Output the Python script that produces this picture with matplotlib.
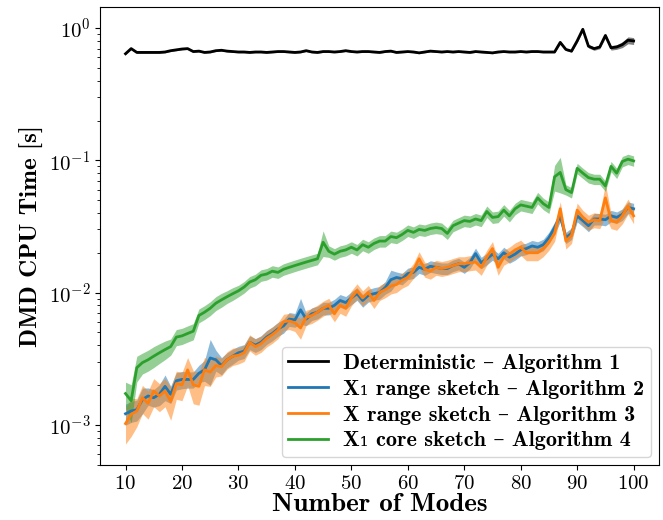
import matplotlib
matplotlib.use("Agg")
import matplotlib.pyplot as plt
import numpy as np

plt.rcParams["font.family"] = ["cmr10", "DejaVu Serif"]
plt.rcParams["mathtext.fontset"] = "cm"
plt.rcParams["axes.formatter.use_mathtext"] = True

BOLD = ["cmb10", "DejaVu Serif"]

modes = np.arange(10, 101)

# mean CPU time per method [s], modes 10..100
det = [0.64, 0.70, 0.655, 0.655, 0.655, 0.655, 0.655, 0.66, 0.675, 0.685,
       0.695, 0.70, 0.665, 0.67, 0.655, 0.66, 0.675, 0.68, 0.67, 0.665,
       0.66, 0.66, 0.655, 0.66, 0.66, 0.655, 0.66, 0.665, 0.665, 0.66,
       0.655, 0.66, 0.675, 0.66, 0.655, 0.665, 0.665, 0.66, 0.665, 0.675,
       0.665, 0.66, 0.665, 0.665, 0.66, 0.655, 0.665, 0.67, 0.655, 0.66,
       0.665, 0.66, 0.65, 0.66, 0.67, 0.665, 0.66, 0.665, 0.66, 0.665,
       0.66, 0.655, 0.665, 0.66, 0.655, 0.65, 0.66, 0.665, 0.66, 0.66,
       0.665, 0.66, 0.665, 0.665, 0.66, 0.66, 0.66, 0.78, 0.69, 0.67,
       0.80, 0.98, 0.73, 0.70, 0.72, 0.88, 0.71, 0.72, 0.75, 0.81, 0.80]
x1_range = [1.21e-3, 1.27e-3, 1.3e-3, 1.55e-3, 1.65e-3, 1.6e-3, 1.7e-3, 1.95e-3, 1.7e-3, 2.15e-3,
            2.2e-3, 2.2e-3, 2.2e-3, 2.45e-3, 2.6e-3, 3.2e-3, 3.1e-3, 2.8e-3, 3.1e-3, 3.3e-3,
            3.5e-3, 3.6e-3, 4.2e-3, 4.0e-3, 4.2e-3, 4.6e-3, 4.9e-3, 5.3e-3, 5.6e-3, 6.3e-3,
            6.2e-3, 7.4e-3, 6.3e-3, 6.9e-3, 7.1e-3, 7.6e-3, 7.6e-3, 8.0e-3, 8.7e-3, 8.4e-3,
            9.1e-3, 9.8e-3, 8.7e-3, 9.5e-3, 9.8e-3, 1.0e-2, 1.09e-2, 1.25e-2, 1.3e-2, 1.27e-2,
            1.39e-2, 1.42e-2, 1.55e-2, 1.5e-2, 1.58e-2, 1.55e-2, 1.52e-2, 1.52e-2, 1.6e-2, 1.65e-2,
            1.55e-2, 1.68e-2, 1.97e-2, 1.68e-2, 1.8e-2, 1.95e-2, 1.8e-2, 2.0e-2, 1.85e-2, 1.95e-2,
            2.1e-2, 2.15e-2, 2.25e-2, 2.2e-2, 2.3e-2, 2.6e-2, 3.1e-2, 3.8e-2, 2.6e-2, 2.8e-2,
            3.8e-2, 3.5e-2, 3.2e-2, 3.6e-2, 3.6e-2, 3.55e-2, 3.8e-2, 3.7e-2, 3.9e-2, 4.4e-2, 4.3e-2]
x_range = [1.02e-3, 1.2e-3, 1.27e-3, 1.6e-3, 1.45e-3, 1.8e-3, 1.65e-3, 1.8e-3, 1.5e-3, 2.05e-3,
           2.0e-3, 2.6e-3, 2.0e-3, 1.95e-3, 2.6e-3, 2.5e-3, 2.8e-3, 2.75e-3, 3.1e-3, 3.3e-3,
           3.35e-3, 3.5e-3, 4.2e-3, 3.9e-3, 4.1e-3, 4.5e-3, 4.8e-3, 5.2e-3, 6.0e-3, 6.1e-3,
           5.9e-3, 5.4e-3, 6.5e-3, 6.7e-3, 7.1e-3, 7.6e-3, 8.0e-3, 6.9e-3, 8.0e-3, 7.6e-3,
           9.1e-3, 1.03e-2, 9.1e-3, 1.0e-2, 8.7e-3, 1.0e-2, 1.05e-2, 1.12e-2, 1.15e-2, 1.24e-2,
           1.3e-2, 1.47e-2, 1.8e-2, 1.5e-2, 1.45e-2, 1.55e-2, 1.52e-2, 1.55e-2, 1.6e-2, 1.65e-2,
           1.65e-2, 1.68e-2, 1.7e-2, 1.55e-2, 1.85e-2, 2.15e-2, 1.55e-2, 1.85e-2, 1.95e-2, 2.1e-2,
           2.2e-2, 2.0e-2, 2.0e-2, 2.0e-2, 2.15e-2, 2.4e-2, 2.8e-2, 4.3e-2, 2.45e-2, 2.7e-2,
           4.2e-2, 3.7e-2, 3.4e-2, 3.55e-2, 3.5e-2, 5.2e-2, 3.5e-2, 3.4e-2, 3.8e-2, 4.5e-2, 3.8e-2]
x1_core = [1.72e-3, 1.52e-3, 2.7e-3, 2.95e-3, 3.1e-3, 3.3e-3, 3.5e-3, 3.7e-3, 3.9e-3, 4.6e-3,
           4.7e-3, 4.9e-3, 5.1e-3, 6.7e-3, 7.1e-3, 7.6e-3, 8.3e-3, 8.8e-3, 9.3e-3, 9.8e-3,
           1.03e-2, 1.1e-2, 1.2e-2, 1.25e-2, 1.35e-2, 1.38e-2, 1.45e-2, 1.42e-2, 1.5e-2, 1.55e-2,
           1.6e-2, 1.65e-2, 1.7e-2, 1.75e-2, 1.8e-2, 2.4e-2, 2.05e-2, 1.95e-2, 2.05e-2, 2.1e-2,
           2.2e-2, 2.1e-2, 2.3e-2, 2.2e-2, 2.35e-2, 2.45e-2, 2.45e-2, 2.65e-2, 2.6e-2, 2.75e-2,
           2.95e-2, 2.85e-2, 3.0e-2, 2.95e-2, 3.05e-2, 3.1e-2, 3.05e-2, 2.8e-2, 3.2e-2, 3.35e-2,
           3.5e-2, 3.45e-2, 3.6e-2, 3.5e-2, 4.1e-2, 3.7e-2, 3.75e-2, 4.2e-2, 3.8e-2, 4.3e-2,
           4.6e-2, 4.5e-2, 4.4e-2, 5.2e-2, 4.7e-2, 4.4e-2, 7.5e-2, 8.1e-2, 6.0e-2, 5.7e-2,
           8.7e-2, 8.0e-2, 7.4e-2, 7.2e-2, 7.2e-2, 6.4e-2, 9.0e-2, 8.0e-2, 0.098, 0.102, 0.099]

# relative spread of the shaded band
det_sd = [0.015] * 77 + [0.03, 0.02, 0.02, 0.03, 0.03, 0.03, 0.03, 0.03,
                         0.04, 0.04, 0.04, 0.05, 0.06, 0.06]
x1_range_sd = [0.18, 0.18, 0.18, 0.22, 0.15, 0.15, 0.18, 0.22, 0.15, 0.15,
               0.15, 0.14, 0.14, 0.15, 0.18, 0.38, 0.18, 0.15, 0.13, 0.13] + [0.12] * 11 + \
              [0.22] + [0.11] * 15 + [0.18] + [0.1] * 43
x_range_sd = [0.3, 0.32, 0.24, 0.24, 0.24, 0.24, 0.24, 0.24, 0.28, 0.24,
              0.24, 0.24, 0.28, 0.28, 0.24, 0.22, 0.18, 0.15, 0.15, 0.15] + [0.14] * 11 + \
             [0.18] + [0.13] * 53 + [0.28, 0.13, 0.13, 0.13, 0.13, 0.13]
x1_core_sd = [0.22, 0.32, 0.22, 0.18, 0.18, 0.18, 0.17, 0.16, 0.14, 0.14,
              0.14, 0.14, 0.14, 0.12, 0.12, 0.12, 0.12, 0.12, 0.11, 0.11] + [0.1] * 15 + \
             [0.22] + [0.1] * 40 + [0.22, 0.3] + [0.09] * 13

series = [
    (det, det_sd, "black", "Deterministic – Algorithm 1"),
    (x1_range, x1_range_sd, "tab:blue", "X\u2081 range sketch – Algorithm 2"),
    (x_range, x_range_sd, "tab:orange", "X range sketch – Algorithm 3"),
    (x1_core, x1_core_sd, "tab:green", "X\u2081 core sketch – Algorithm 4"),
]

fig = plt.figure(figsize=(6.63, 5.2), dpi=100)
ax = fig.add_axes([0.151, 0.106, 0.843, 0.881])

for mean, sd, color, label in series:
    mean = np.array(mean)
    sd = np.array(sd)
    ax.fill_between(modes, mean * (1 - sd), mean * (1 + sd), color=color, alpha=0.5, lw=0)
    ax.plot(modes, mean, color=color, lw=2, label=label)

ax.set_yscale("log")
ax.set_xticks(np.arange(10, 101, 10))
ax.tick_params(labelsize=15)
ax.set_xlabel("Number of Modes", fontsize=19.5, family=BOLD, labelpad=0)
ax.set_ylabel("DMD CPU Time [s]", fontsize=18, family=BOLD, labelpad=3)
ax.legend(loc="lower right", prop={"family": BOLD, "size": 16},
          labelspacing=0.28, borderpad=0.3, handlelength=1.8, handletextpad=0.68,
          borderaxespad=0.35)

fig.savefig("out.png", dpi=100)
